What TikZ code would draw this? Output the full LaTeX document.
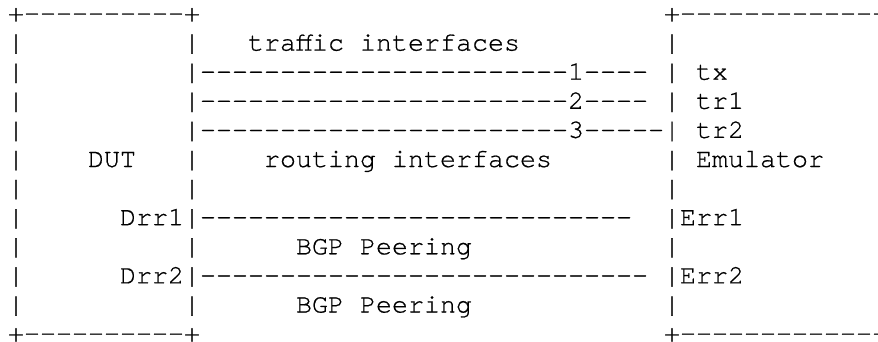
\documentclass[tikz,border=0pt]{standalone}
\usepackage{fontspec}
\setmonofont{TeX Gyre Cursor}[FakeBold=0.6]
\newcommand\asciifont{\ttfamily\fontsize{26.67}{29.1}\selectfont}
\ExplSyntaxOn
\cs_new:Npn \dashrun #1 { \prg_replicate:nn {#1} {-} }
\ExplSyntaxOff
\tikzset{
  ascii/.style={anchor=base west, inner sep=0pt, outer sep=0pt, font=\asciifont, text=black},
}
% one monospaced cell of the grid: name, column, row, text
\newcommand\cell[4]{\node[ascii] (#1) at ({8+16*#2},{319.5-29.1*#3}) {#4};}
\begin{document}
\begin{tikzpicture}[x=1pt,y=1pt]
  \fill[white] (0,0) rectangle (878,341);
  \useasboundingbox (0,0) rectangle (878,341);
  \clip (0,0) rectangle (878,341);

  % DUT box
  \cell{dutTop}{0}{0}{+\dashrun{10}+}
  \foreach \r in {1,...,10} {\cell{dutL\r}{0}{\r}{|}}
  \foreach \r in {1,5,6,8,10} {\cell{dutR\r}{11}{\r}{|}}
  \cell{dutBot}{0}{11}{+\dashrun{10}+}
  \cell{dut}{5}{5}{DUT}

  % Emulator box
  \cell{emuTop}{41}{0}{+\dashrun{13}}
  \foreach \r in {1,2,3,5,6,8,10} {\cell{emuL\r}{41}{\r}{|}}
  \cell{emuBot}{41}{11}{+\dashrun{13}}
  \cell{tx}{43}{2}{tx}
  \cell{trA}{43}{3}{tr1}
  \cell{trB}{43}{4}{tr2}
  \cell{emu}{43}{5}{Emulator}

  % traffic interfaces
  \cell{trafficLbl}{15}{1}{traffic interfaces}
  \cell{link1}{11}{2}{|\dashrun{23}1\dashrun{4}}
  \cell{link2}{11}{3}{|\dashrun{23}2\dashrun{4}}
  \cell{link3}{11}{4}{|\dashrun{23}3\dashrun{5}|}
  \cell{routingLbl}{16}{5}{routing interfaces}

  % BGP peerings
  \cell{drrA}{7}{7}{Drr1|\dashrun{27}}
  \cell{errA}{41}{7}{|Err1}
  \cell{bgpA}{18}{8}{BGP Peering}
  \cell{drrB}{7}{9}{Drr2|\dashrun{28}}
  \cell{errB}{41}{9}{|Err2}
  \cell{bgpB}{18}{10}{BGP Peering}
\end{tikzpicture}
\end{document}
